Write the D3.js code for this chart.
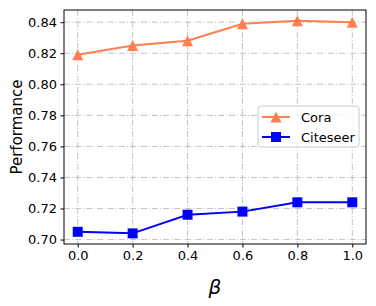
<!DOCTYPE html>
<html>
<head>
<meta charset="utf-8">
<script src="https://cdn.jsdelivr.net/npm/d3@7"></script>
<style>
  body { margin: 0; background: #fff; }
  svg { display: block; }
</style>
</head>
<body>
<svg width="376" height="306"></svg>
<script>
const betas = [0.0, 0.2, 0.4, 0.6, 0.8, 1.0];
const cora = [0.819, 0.825, 0.828, 0.839, 0.841, 0.840];
const citeseer = [0.705, 0.704, 0.716, 0.718, 0.724, 0.724];
const xTicks = [0.0, 0.2, 0.4, 0.6, 0.8, 1.0];
const yTicks = [0.70, 0.72, 0.74, 0.76, 0.78, 0.80, 0.82, 0.84];

const FONT = '"DejaVu Sans"';

const svg = d3.select('svg');
const width = 376;
const height = 306;
const margin = { top: 10, right: 10, bottom: 62, left: 64 };
const innerWidth = width - margin.left - margin.right;
const innerHeight = height - margin.top - margin.bottom;

const g = svg.append('g')
  .attr('transform', `translate(${margin.left},${margin.top})`);

// matplotlib-style 5% margins
const xScale = d3.scaleLinear()
  .domain([-0.05, 1.05])
  .range([0, innerWidth]);

const yMin = d3.min(citeseer), yMax = d3.max(cora);
const pad = (yMax - yMin) * 0.05;
const yScale = d3.scaleLinear()
  .domain([yMin - pad, yMax + pad])
  .range([innerHeight, 0]);

// grid
const gridDash = '6,2,1,2';
g.append('g').selectAll('line').data(xTicks)
  .enter().append('line')
  .attr('x1', d => xScale(d)).attr('x2', d => xScale(d))
  .attr('y1', 0).attr('y2', innerHeight)
  .attr('stroke', '#bdbdbd').attr('stroke-width', 0.9)
  .attr('stroke-dasharray', gridDash);
g.append('g').selectAll('line').data(yTicks)
  .enter().append('line')
  .attr('y1', d => yScale(d)).attr('y2', d => yScale(d))
  .attr('x1', 0).attr('x2', innerWidth)
  .attr('stroke', '#bdbdbd').attr('stroke-width', 0.9)
  .attr('stroke-dasharray', gridDash);

// x axis
const xAxisG = g.append('g')
  .attr('transform', `translate(0,${innerHeight})`)
  .call(d3.axisBottom(xScale).tickValues(xTicks).tickFormat(d3.format('.1f'))
    .tickSize(3.5).tickPadding(3.5));
xAxisG.select('.domain').remove();
xAxisG.selectAll('text')
  .style('font-family', FONT).style('font-size', '13px').attr('fill', '#000');

// y axis
const yAxisG = g.append('g')
  .call(d3.axisLeft(yScale).tickValues(yTicks).tickFormat(d3.format('.2f'))
    .tickSize(3.5).tickPadding(3.5));
yAxisG.select('.domain').remove();
yAxisG.selectAll('text')
  .style('font-family', FONT).style('font-size', '13px').attr('fill', '#000');

// frame
g.append('rect')
  .attr('width', innerWidth).attr('height', innerHeight)
  .attr('fill', 'none').attr('stroke', '#000').attr('stroke-width', 1);

// axis labels
svg.append('text')
  .attr('x', margin.left + xScale(0.5))
  .attr('y', 294)
  .attr('text-anchor', 'middle')
  .style('font-family', FONT)
  .style('font-size', '20px')
  .style('font-style', 'italic')
  .text('β');

svg.append('text')
  .attr('transform', `translate(22,${margin.top + innerHeight / 2}) rotate(-90)`)
  .attr('text-anchor', 'middle')
  .style('font-family', FONT)
  .style('font-size', '15px')
  .text('Performance');

// markers
const triangle = {
  draw(ctx, size) {
    const r = Math.sqrt(size) / 2;
    ctx.moveTo(0, -r);
    ctx.lineTo(r, r);
    ctx.lineTo(-r, r);
    ctx.closePath();
  }
};
const series = [
  { name: 'Cora', values: cora, color: '#ff7f50', symbol: d3.symbol(triangle, 11 * 11) },
  { name: 'Citeseer', values: citeseer, color: '#0000ff', symbol: d3.symbol(d3.symbolSquare, 10 * 10) }
];

const line = d3.line()
  .x((d, i) => xScale(betas[i]))
  .y(d => yScale(d));

series.forEach(s => {
  g.append('path')
    .datum(s.values)
    .attr('fill', 'none')
    .attr('stroke', s.color)
    .attr('stroke-width', 2)
    .attr('d', line);
  g.selectAll(null).data(s.values)
    .enter().append('path')
    .attr('transform', (d, i) => `translate(${xScale(betas[i])},${yScale(d)})`)
    .attr('d', s.symbol)
    .attr('fill', s.color);
});

// legend
const legendG = svg.append('g')
  .attr('transform', 'translate(258,106)');
legendG.append('rect')
  .attr('width', 101).attr('height', 41)
  .attr('rx', 3)
  .attr('fill', 'white').attr('fill-opacity', 0.8)
  .attr('stroke', '#cccccc').attr('stroke-width', 1);
series.forEach((s, i) => {
  const y = 11 + i * 20;
  legendG.append('line')
    .attr('x1', 4).attr('x2', 32)
    .attr('y1', y).attr('y2', y)
    .attr('stroke', s.color).attr('stroke-width', 2);
  legendG.append('path')
    .attr('transform', `translate(18,${y})`)
    .attr('d', s.symbol)
    .attr('fill', s.color);
  legendG.append('text')
    .attr('x', 43).attr('y', y)
    .attr('dy', '0.35em')
    .style('font-family', FONT)
    .style('font-size', '13px')
    .text(s.name);
});
</script>
</body>
</html>
